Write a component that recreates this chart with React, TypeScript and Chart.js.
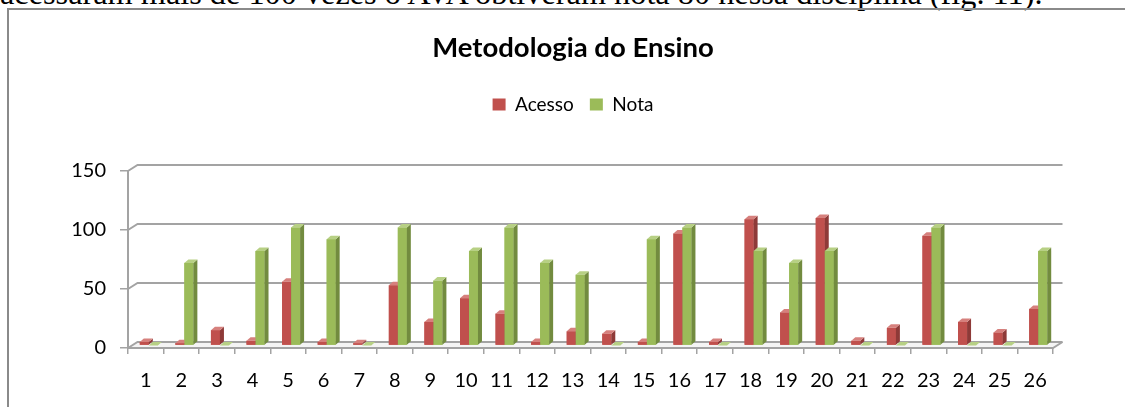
import React, { useEffect, useRef } from "react";
import { Chart, registerables } from "chart.js";

Chart.register(...registerables);

// ---- data ----
const categories = ["1","2","3","4","5","6","7","8","9","10","11","12","13","14","15","16","17","18","19","20","21","22","23","24","25","26"];
const acesso = [3, 2, 13, 4, 54, 3, 2, 51, 20, 40, 27, 3, 12, 10, 3, 95, 3, 107, 28, 108, 4, 15, 93, 20, 11, 31];
const nota = [0, 70, 0, 80, 100, 90, 0, 100, 55, 80, 100, 70, 60, 0, 90, 100, 0, 80, 70, 80, 0, 0, 100, 0, 0, 80];
const seriesNames = ["Acesso", "Nota"];
const yTickValues = [0, 50, 100, 150];
const chartTitle = "Metodologia do Ensino";
const captionText = "acessaram mais de 100 vezes o AVA obtiveram nota 80 nessa disciplina (fig. 11).";

// ---- styling ----
const frontColors = ["#C0504D", "#9BBB59"];
const sideColors = ["#8E3A38", "#728B3F"];
const topColors = ["#D6807D", "#B7D084"];
const gridColor = "#a3a3a3";
const WALL_DX = 9.5, WALL_DY = 6;
const BAR_OX = 3, BAR_OY = -2.5;
const BAR_DX = 4, BAR_DY = -3.5;
const LEGEND_EXTRA = 47;

function poly(ctx: CanvasRenderingContext2D, pts: number[][], fill: string) {
  ctx.beginPath();
  ctx.moveTo(pts[0][0], pts[0][1]);
  for (let i = 1; i < pts.length; i++) ctx.lineTo(pts[i][0], pts[i][1]);
  ctx.closePath();
  ctx.fillStyle = fill;
  ctx.fill();
}

const threeD = {
  id: "threeD",
  beforeInit(chart: any) {
    const lg = chart.legend;
    if (lg) {
      const orig = lg.fit;
      lg.fit = function () {
        orig.call(this);
        this.height += LEGEND_EXTRA;
      };
    }
  },
  beforeDatasetsDraw(chart: any) {
    const { ctx, chartArea: a, scales } = chart;
    const y = scales.y;
    const y0 = y.getPixelForValue(0);
    ctx.save();
    poly(ctx, [[a.left, y0], [a.right, y0], [a.right + WALL_DX, y0 - WALL_DY], [a.left + WALL_DX, y0 - WALL_DY]], "#f4f4f4");
    ctx.strokeStyle = gridColor;
    ctx.lineWidth = 2;
    for (const t of y.ticks) {
      const py = y.getPixelForValue(t.value);
      ctx.beginPath();
      ctx.moveTo(a.left, py);
      ctx.lineTo(a.left + WALL_DX, py - WALL_DY);
      ctx.lineTo(a.right + WALL_DX, py - WALL_DY);
      ctx.stroke();
    }
    ctx.beginPath();
    ctx.moveTo(a.left, y0);
    ctx.lineTo(a.right, y0);
    ctx.lineTo(a.right + WALL_DX, y0 - WALL_DY);
    ctx.stroke();
    ctx.beginPath();
    ctx.moveTo(a.left, y.getPixelForValue(150));
    ctx.lineTo(a.left, y0);
    ctx.stroke();
    ctx.restore();
    ctx.save();
    ctx.translate(BAR_OX, BAR_OY);
  },
  afterDatasetsDraw(chart: any) {
    const { ctx } = chart;
    const metas = chart.data.datasets.map((_: any, i: number) => chart.getDatasetMeta(i));
    const n = chart.data.labels.length;
    for (let i = 0; i < n; i++) {
      metas.forEach((meta: any, d: number) => {
        const el = meta.data[i];
        if (!el) return;
        el.draw(ctx);
        const p = el.getProps(["x", "y", "base", "width"], true);
        const x0 = p.x - p.width / 2;
        const x1 = p.x + p.width / 2;
        const top = Math.min(p.y, p.base);
        const bot = Math.max(p.y, p.base);
        poly(ctx, [[x1, top], [x1 + BAR_DX, top + BAR_DY], [x1 + BAR_DX, bot + BAR_DY], [x1, bot]], sideColors[d]);
        poly(ctx, [[x0, top], [x1, top], [x1 + BAR_DX, top + BAR_DY], [x0 + BAR_DX, top + BAR_DY]], topColors[d]);
      });
    }
    ctx.restore();
  },
};

export default function App() {
  const ref = useRef<HTMLCanvasElement | null>(null);
  useEffect(() => {
    if (!ref.current) return;
    const chart = new Chart(ref.current, {
      type: "bar",
      data: {
        labels: categories,
        datasets: [
          { label: seriesNames[0], data: acesso, backgroundColor: frontColors[0], borderWidth: 0, clip: false as any },
          { label: seriesNames[1], data: nota, backgroundColor: frontColors[1], borderWidth: 0, clip: false as any },
        ],
      },
      options: {
        responsive: false,
        animation: false,
        devicePixelRatio: 1,
        layout: { padding: { left: 0, right: 0, top: 0, bottom: 0 } },
        datasets: { bar: { categoryPercentage: 0.506, barPercentage: 1.0 } },
        plugins: {
          tooltip: { enabled: false },
          title: {
            display: true,
            text: chartTitle,
            color: "#000",
            font: { family: "Lato", size: 27.5, weight: "bold" },
            padding: { top: 32, bottom: 14 },
          },
          legend: {
            display: true,
            position: "top",
            labels: {
              boxWidth: 13,
              boxHeight: 12,
              color: "#000",
              padding: 16,
              font: { family: "Lato", size: 19 },
            },
          },
        },
        scales: {
          x: {
            afterFit: (s: any) => { s.height = 59; },
            grid: { display: true, drawOnChartArea: false, drawTicks: true, tickLength: 6, color: gridColor, lineWidth: 1.5 },
            border: { display: false },
            ticks: { color: "#000", font: { family: "Lato", size: 20 }, padding: 15, maxRotation: 0, autoSkip: false },
          },
          y: {
            min: 0,
            max: 150,
            afterFit: (s: any) => { s.width = 128; },
            afterBuildTicks: (s: any) => { s.ticks = yTickValues.map((v) => ({ value: v })); },
            grid: { display: true, drawOnChartArea: false, drawTicks: true, tickLength: 8, color: gridColor, lineWidth: 1.5 },
            border: { display: false },
            ticks: { color: "#000", font: { family: "Lato", size: 20 }, padding: 14 },
          },
          yRight: {
            type: "linear",
            position: "right",
            display: true,
            afterFit: (s: any) => { s.width = 93; },
            grid: { display: false, drawTicks: false },
            border: { display: false },
            ticks: { display: false },
          },
        },
      } as any,
      plugins: [threeD as any],
    });
    return () => chart.destroy();
  }, []);

  return (
    <div style={{ position: "fixed", left: 0, top: 0, width: 1125, height: 407, overflow: "hidden", background: "#fff" }}>
      <div
        style={{
          position: "absolute",
          left: 0,
          top: -23,
          whiteSpace: "nowrap",
          fontFamily: "'Liberation Serif', 'Times New Roman', serif",
          fontSize: 32.3,
          lineHeight: "32.3px",
          color: "#000",
        }}
      >
        {captionText}
      </div>
      <div
        style={{
          position: "absolute",
          left: 7,
          top: 8,
          width: 1400,
          height: 600,
          border: "2px solid #8a8a8a",
        }}
      />
      <canvas ref={ref} width={1146} height={407} style={{ position: "absolute", left: 0, top: 0 }} />
    </div>
  );
}
